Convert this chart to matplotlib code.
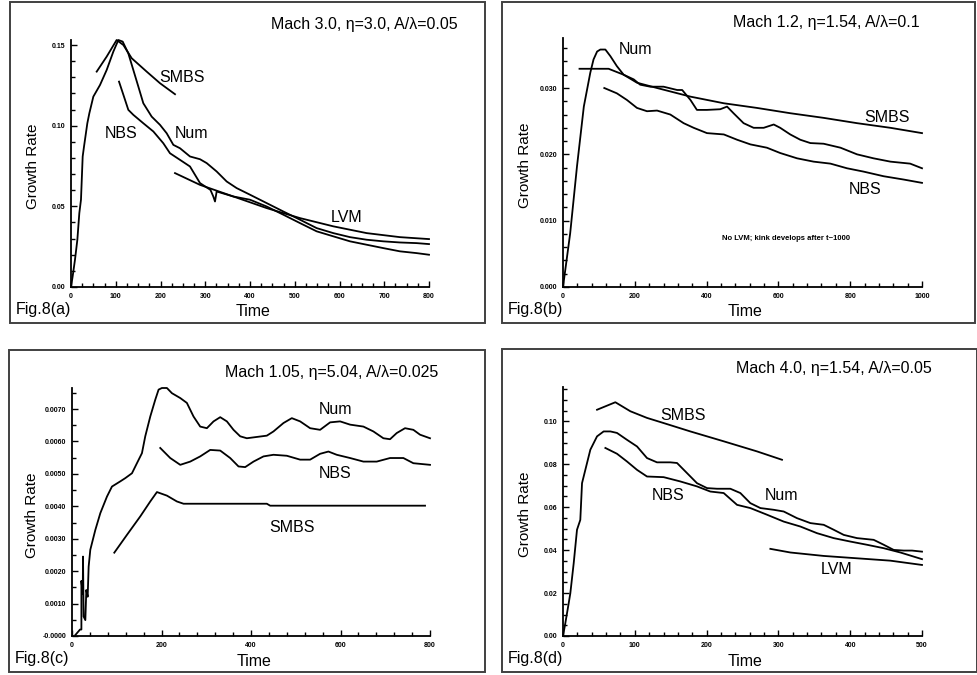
import numpy as np
from matplotlib import pyplot as plt
from matplotlib.patches import Rectangle
from matplotlib.ticker import MultipleLocator

plt.rcParams['font.family'] = ['Liberation Sans', 'DejaVu Sans']

W, H = 977, 675  # canvas size in pixels

#%% data, growth rate vs time

# (a) Mach 3.0, eta=3.0, A/lambda=0.05
a_num_t = [0, 3.7, 8.9, 14.2, 18.6, 22.3, 26.1, 29.1, 36.5, 41, 49.9, 64.8, 79.7, 94.6, 105.8, 115.5,
           128.1, 139.3, 150.5, 161.6, 180.3, 198.9, 213.8, 228.7, 243.6, 265.9, 288.3, 303.2, 325.5,
           347.9, 370.2, 400, 437.3, 474.5, 511.8, 549, 586.2, 623.5, 660.7, 698, 735.2, 772.5, 800]
a_num_g = [0, 0.0066, 0.0169, 0.0293, 0.0458, 0.0541, 0.0809, 0.0871, 0.1015, 0.1077, 0.1180, 0.1252,
           0.1345, 0.1459, 0.1531, 0.1521, 0.1448, 0.1345, 0.1242, 0.1139, 0.1056, 0.1005, 0.0953,
           0.0881, 0.0860, 0.0809, 0.0792, 0.0768, 0.0716, 0.0654, 0.0613, 0.0572, 0.0520, 0.0468,
           0.0417, 0.0365, 0.0334, 0.0309, 0.0293, 0.0283, 0.0276, 0.0272, 0.0266]
a_nbs_t = [107.3, 118.4, 128.1, 139.3, 161.6, 184, 206.3, 221.2, 243.6, 265.9, 288.3, 311.6, 318,
           321.8, 325.5, 362.8, 400, 437.3, 474.5, 511.8, 549, 586.2, 623.5, 660.7, 698, 735.2, 772.5, 800]
a_nbs_g = [0.1273, 0.1180, 0.1098, 0.1067, 0.1015, 0.0964, 0.0891, 0.0829, 0.0788, 0.0747, 0.0644,
           0.0602, 0.0561, 0.0530, 0.0592, 0.0561, 0.0541, 0.0499, 0.0448, 0.0396, 0.0345, 0.0314,
           0.0283, 0.0262, 0.0241, 0.0221, 0.0210, 0.0200]
a_lvm_t = [232.4, 288.3, 362.8, 437.3, 511.8, 586.2, 660.7, 735.2, 800]
a_lvm_g = [0.0706, 0.0633, 0.0561, 0.0489, 0.0427, 0.0376, 0.0334, 0.0309, 0.0297]
a_smbs_t = [57.4, 79.7, 102, 117, 135.6, 169.1, 198.9, 232.4]
a_smbs_g = [0.1335, 0.1428, 0.1531, 0.1500, 0.1418, 0.1335, 0.1263, 0.1195]

# (b) Mach 1.2, eta=1.54, A/lambda=0.1
b_num_t = [0, 20, 39, 58, 76, 85, 95, 104, 118, 132, 150, 169, 197, 215, 243, 280, 318, 332, 355, 373,
           401, 438, 457, 475, 503, 531, 559, 587, 605, 633, 661, 689, 726, 773, 819, 865, 912, 967, 1000]
b_num_g = [0, 0.0081, 0.0182, 0.0272, 0.0323, 0.0343, 0.0355, 0.0358, 0.0358, 0.0348, 0.0333, 0.0320,
           0.0313, 0.0305, 0.0302, 0.0302, 0.0297, 0.0297, 0.0282, 0.0267, 0.0267, 0.0268, 0.0272,
           0.0262, 0.0247, 0.0240, 0.0240, 0.0245, 0.0240, 0.0230, 0.0222, 0.0217, 0.0216, 0.0210,
           0.0200, 0.0194, 0.0189, 0.0186, 0.0179]
b_smbs_t = [46, 127, 169, 206, 262, 355, 448, 540, 633, 726, 819, 912, 1000]
b_smbs_g = [0.0329, 0.0329, 0.0320, 0.0308, 0.0300, 0.0287, 0.0277, 0.0270, 0.0262, 0.0255, 0.0247,
            0.0240, 0.0232]
b_nbs_t = [115, 150, 178, 206, 234, 262, 299, 336, 364, 401, 448, 485, 522, 568, 605, 652, 698, 745,
           791, 837, 893, 949, 1000]
b_nbs_g = [0.0300, 0.0292, 0.0282, 0.0270, 0.0265, 0.0266, 0.0260, 0.0247, 0.0240, 0.0232, 0.0230,
           0.0222, 0.0215, 0.0210, 0.0202, 0.0194, 0.0189, 0.0186, 0.0179, 0.0174, 0.0167, 0.0162,
           0.0157]

# (c) Mach 1.05, eta=5.04, A/lambda=0.025
c_num_t = [7.4, 18, 21, 21, 24, 24.6, 26, 29.8, 32, 35, 37.2, 40.9, 52.1, 63.3, 78.1, 89.3, 107.9,
           119.1, 134.0, 145.1, 156.3, 163.7, 174.9, 186.1, 193.5, 200.9, 212.1, 223.3, 241.9, 256.7,
           271.6, 286.5, 301.4, 316.3, 331.2, 346.1, 360.9, 375.8, 390.7, 413.0, 435.4, 450.2, 472.6,
           491.2, 509.8, 532.1, 554.4, 576.8, 599.1, 621.4, 651.2, 673.5, 695.8, 710.7, 725.6, 744.2,
           762.8, 777.7, 800]
c_num_g = [0.00003, 0.0002, 0.0002, 0.0017, 0.0013, 0.00245, 0.0006, 0.00049, 0.00142, 0.00121,
           0.00214, 0.00266, 0.00327, 0.00379, 0.00430, 0.00461, 0.00477, 0.00487, 0.00502, 0.00533,
           0.00564, 0.00616, 0.00677, 0.00729, 0.00760, 0.00765, 0.00765, 0.00749, 0.00734, 0.00719,
           0.00677, 0.00646, 0.00641, 0.00662, 0.00675, 0.00662, 0.00636, 0.00616, 0.00610, 0.00614,
           0.00618, 0.00631, 0.00657, 0.00672, 0.00662, 0.00641, 0.00636, 0.00659, 0.00662, 0.00652,
           0.00646, 0.00631, 0.00610, 0.00607, 0.00626, 0.00641, 0.00636, 0.00621, 0.00610]
c_nbs_t = [197.2, 219.5, 241.9, 264.2, 286.5, 308.8, 331.2, 353.5, 372.1, 387.0, 405.6, 427.9, 450.2,
           480.0, 509.8, 532.1, 554.4, 573.0, 591.6, 621.4, 651.2, 681.0, 710.7, 740.5, 762.8, 800]
c_nbs_g = [0.00580, 0.00549, 0.00528, 0.00538, 0.00554, 0.00574, 0.00572, 0.00549, 0.00523, 0.00521,
           0.00538, 0.00554, 0.00559, 0.00556, 0.00544, 0.00544, 0.00562, 0.00569, 0.00559, 0.00549,
           0.00538, 0.00538, 0.00549, 0.00549, 0.00533, 0.00528]
c_smbs_t = [94.5, 122.8, 152.6, 174.9, 189.8, 212.1, 234.4, 249.3, 435.4, 442.8, 788.9]
c_smbs_g = [0.00257, 0.00312, 0.00369, 0.00415, 0.00444, 0.00433, 0.00415, 0.00408, 0.00408, 0.00402,
            0.00402]

# (d) Mach 4.0, eta=1.54, A/lambda=0.05
d_num_t = [0, 3.2, 7.9, 10.2, 14.9, 19.5, 24.1, 26.5, 31.1, 38.1, 47.4, 56.6, 66, 75.2, 89.1, 103.1,
           117, 130.9, 149.5, 158.8, 172.7, 186.6, 200.6, 214.5, 233.1, 247, 260.9, 274.9, 293.4,
           307.4, 325.9, 344.5, 363.1, 377, 391, 409.5, 432.7, 446.7, 460.6, 474.5, 486.1, 500]
d_num_g = [0, 0.0059, 0.0152, 0.0199, 0.0339, 0.0495, 0.0541, 0.0712, 0.0774, 0.0868, 0.0930, 0.0953,
           0.0953, 0.0946, 0.0914, 0.0883, 0.0829, 0.0809, 0.0809, 0.0806, 0.0759, 0.0712, 0.0689,
           0.0686, 0.0686, 0.0666, 0.0619, 0.0596, 0.0588, 0.0580, 0.0549, 0.0526, 0.0518, 0.0495,
           0.0471, 0.0456, 0.0448, 0.0425, 0.0401, 0.0398, 0.0398, 0.0393]
d_nbs_t = [59, 75.2, 89.1, 103.1, 117, 140.2, 163.4, 186.6, 205.2, 223.8, 242.4, 260.9, 284.1, 307.4,
           330.6, 353.8, 377, 400.2, 423.4, 446.7, 469.9, 500]
d_nbs_g = [0.0876, 0.0849, 0.0813, 0.0774, 0.0743, 0.0740, 0.0720, 0.0697, 0.0673, 0.0666, 0.0611,
           0.0596, 0.0565, 0.0533, 0.0510, 0.0479, 0.0456, 0.0440, 0.0425, 0.0409, 0.0389, 0.0358]
d_smbs_t = [47.4, 72.9, 93.8, 117, 140.2, 177.4, 223.8, 270.2, 305]
d_smbs_g = [0.1054, 0.1089, 0.1047, 0.1016, 0.0992, 0.0953, 0.0907, 0.0860, 0.0821]
d_lvm_t = [288.8, 316.7, 363.1, 409.5, 455.9, 500]
d_lvm_g = [0.0406, 0.0389, 0.0373, 0.0362, 0.0351, 0.0331]

#%% figure
fig = plt.figure(figsize=(W/100, H/100), dpi=100)

def px_rect(x0, x1, y0, y1):
    # pixel box (top-left origin) -> figure fraction rect
    return [x0/W, 1 - y1/H, (x1 - x0)/W, (y1 - y0)/H]

def ftxt(x, y, s, **kw):
    fig.text(x/W, 1 - y/H, s, **kw)

lbl_kw = dict(fontsize=11.5, ha='center', va='center')
lw = 1.3

panels = [
    # frame box, axes box (pixels), limits, ticks and labels
    dict(frame=(10, 485, 2, 323), box=(71, 429, 40, 287), xlim=(0, 800), ylim=(0, 0.1531),
         xt=np.arange(0, 801, 100), xtl=[str(v) for v in range(0, 801, 100)], xmin=25,
         yt=[0, 0.05, 0.10, 0.15], ytl=['0.00', '0.05', '0.10', '0.15'], ymin=0.01,
         title='Mach 3.0, η=3.0, A/λ=0.05', tpos=(458, 25), fig='Fig.8(a)'),
    dict(frame=(502, 975, 2, 323), box=(563, 922, 38, 287), xlim=(0, 1000), ylim=(0, 0.03754),
         xt=np.arange(0, 1001, 200), xtl=[str(v) for v in range(0, 1001, 200)], xmin=40,
         yt=[0, 0.01, 0.02, 0.03], ytl=['0.000', '0.010', '0.020', '0.030'], ymin=0.002,
         title='Mach 1.2, η=1.54, A/λ=0.1', tpos=(920, 23), fig='Fig.8(b)'),
    dict(frame=(9, 485, 350, 672), box=(72, 430, 388, 636), xlim=(0, 800), ylim=(0, 0.00765),
         xt=np.arange(0, 801, 200), xtl=[str(v) for v in range(0, 801, 200)], xmin=40,
         yt=np.arange(0, 0.0071, 0.001),
         ytl=['-0.0000', '0.0010', '0.0020', '0.0030', '0.0040', '0.0050', '0.0060', '0.0070'],
         ymin=0.0005, title='Mach 1.05, η=5.04, A/λ=0.025', tpos=(438, 372), fig='Fig.8(c)'),
    dict(frame=(502, 977, 349, 672), box=(563, 922, 387, 636), xlim=(0, 500), ylim=(0, 0.116),
         xt=np.arange(0, 501, 100), xtl=[str(v) for v in range(0, 501, 100)], xmin=20,
         yt=[0, 0.02, 0.04, 0.06, 0.08, 0.10], ytl=['0.00', '0.02', '0.04', '0.06', '0.08', '0.10'],
         ymin=0.005, title='Mach 4.0, η=1.54, A/λ=0.05', tpos=(932, 369), fig='Fig.8(d)'),
]

ax = []
for p in panels:
    fx0, fx1, fy0, fy1 = p['frame']
    fig.patches.append(Rectangle((fx0/W, 1 - fy1/H), (fx1 - fx0)/W, (fy1 - fy0)/H,
                                 transform=fig.transFigure, fill=False, edgecolor='#404040', lw=1.4))
    x0, x1, y0, y1 = p['box']
    a = fig.add_axes(px_rect(x0, x1, y0, y1))
    a.set_xlim(p['xlim'])
    a.set_ylim(p['ylim'])
    a.spines['top'].set_visible(False)
    a.spines['right'].set_visible(False)
    a.spines['left'].set_linewidth(1.3)
    a.spines['bottom'].set_linewidth(1.3)
    a.set_xticks(p['xt'])
    a.set_xticklabels(p['xtl'], fontsize=5, fontweight='bold')
    a.set_yticks(p['yt'])
    a.set_yticklabels(p['ytl'], fontsize=5, fontweight='bold')
    a.xaxis.set_minor_locator(MultipleLocator(p['xmin']))
    a.yaxis.set_minor_locator(MultipleLocator(p['ymin']))
    a.tick_params(which='both', direction='in', width=1.0)
    a.tick_params(which='major', length=4.5, pad=4)
    a.tick_params(which='minor', length=3)
    a.patch.set_alpha(0)

    ftxt((x0 + x1)/2 + 3, fy1 - 11, 'Time', **lbl_kw)
    ftxt(fx0 + 23, (y0 + y1)/2 + 3, 'Growth Rate', rotation=90, fontsize=11, ha='center', va='center')
    ftxt(fx0 + 6, fy1 - 14, p['fig'], fontsize=11.5, ha='left', va='center')
    ftxt(p['tpos'][0], p['tpos'][1], p['title'], fontsize=11.5, ha='right', va='center')
    ax.append(a)

#%% curves
ax[0].plot(a_num_t, a_num_g, 'k', lw=lw)
ax[0].plot(a_nbs_t, a_nbs_g, 'k', lw=lw)
ax[0].plot(a_lvm_t, a_lvm_g, 'k', lw=lw)
ax[0].plot(a_smbs_t, a_smbs_g, 'k', lw=lw)

ax[1].plot(b_num_t, b_num_g, 'k', lw=lw)
ax[1].plot(b_smbs_t, b_smbs_g, 'k', lw=lw)
ax[1].plot(b_nbs_t, b_nbs_g, 'k', lw=lw)

ax[2].plot(c_num_t, c_num_g, 'k', lw=lw)
ax[2].plot(c_nbs_t, c_nbs_g, 'k', lw=lw)
ax[2].plot(c_smbs_t, c_smbs_g, 'k', lw=lw)

ax[3].plot(d_num_t, d_num_g, 'k', lw=lw)
ax[3].plot(d_nbs_t, d_nbs_g, 'k', lw=lw)
ax[3].plot(d_smbs_t, d_smbs_g, 'k', lw=lw)
ax[3].plot(d_lvm_t, d_lvm_g, 'k', lw=lw)

for a in ax:
    for ln in a.lines:
        ln.set_clip_on(False)

#%% curve labels
ftxt(182, 77, 'SMBS', **lbl_kw)
ftxt(121, 133, 'NBS', **lbl_kw)
ftxt(192, 133, 'Num', **lbl_kw)
ftxt(347, 217, 'LVM', **lbl_kw)

ftxt(635, 50, 'Num', **lbl_kw)
ftxt(887, 117, 'SMBS', **lbl_kw)
ftxt(865, 190, 'NBS', **lbl_kw)
ftxt(786, 238, 'No LVM; kink develops after t~1000', fontsize=5.5, fontweight='bold',
     ha='center', va='center')

ftxt(335, 409, 'Num', **lbl_kw)
ftxt(335, 473, 'NBS', **lbl_kw)
ftxt(292, 527, 'SMBS', **lbl_kw)

ftxt(683, 415, 'SMBS', **lbl_kw)
ftxt(668, 496, 'NBS', **lbl_kw)
ftxt(782, 495, 'Num', **lbl_kw)
ftxt(837, 570, 'LVM', **lbl_kw)

plt.savefig('out.png', dpi=100)
